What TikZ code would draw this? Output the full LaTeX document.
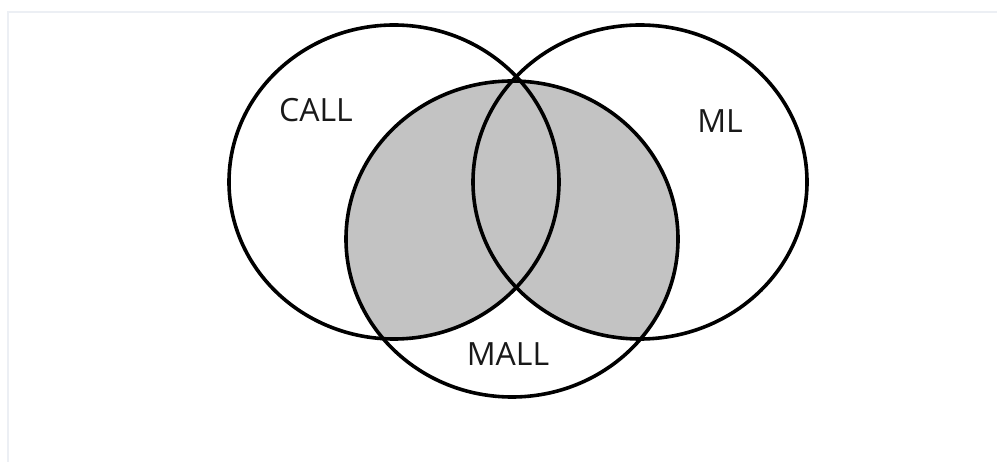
\documentclass[tikz,border=0pt]{standalone}
\usepackage{fontspec}
\setmainfont{Open Sans}
\usetikzlibrary{positioning}
\definecolor{paneledge}{HTML}{ECEFF4}
\definecolor{overlapgray}{HTML}{C3C3C3}

\begin{document}
\begin{tikzpicture}[
  x=1pt, y=-1pt,
  ring/.style={draw=black, line width=3.6pt},
  shaded/.style={fill=overlapgray},
  lbl/.style={font=\fontsize{32}{32}\selectfont, text=black!90, inner sep=0pt},
  panel/.style={draw=paneledge, line width=2.5pt}
]
\useasboundingbox (0,0) rectangle (997,462);
\draw[panel] (8,462) -- (8,12) -- (997,12);
% MALL overlapping CALL or ML
\begin{scope}
  \clip (512,239) ellipse [x radius=166, y radius=158];
  \fill[shaded] (394,182) ellipse [x radius=165, y radius=157];
  \fill[shaded] (640,182) ellipse [x radius=167, y radius=157];
\end{scope}
\draw[ring] (394,182) ellipse [x radius=165, y radius=157];
\draw[ring] (640,182) ellipse [x radius=167, y radius=157];
\draw[ring] (512,239) ellipse [x radius=166, y radius=158];
\node[lbl] (call) at (316,110) {CALL};
\node[lbl] (ml) at (720,121) {ML};
\node[lbl] (mall) at (508,354) {MALL};
\end{tikzpicture}
\end{document}
